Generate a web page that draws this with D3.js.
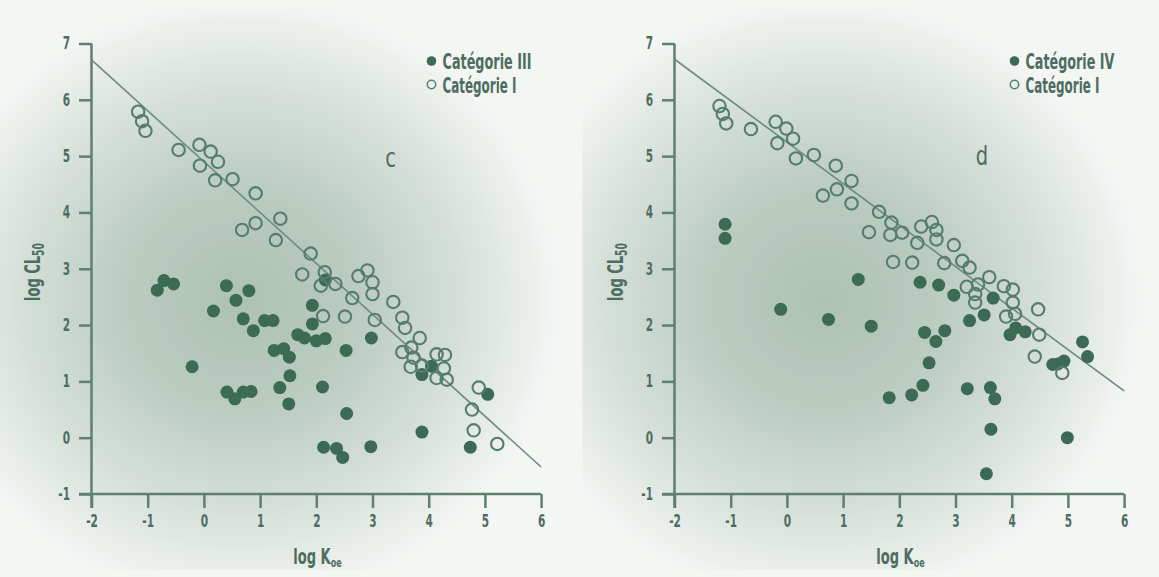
<!DOCTYPE html>
<html><head><meta charset="utf-8">
<script src="https://cdn.jsdelivr.net/npm/d3@7"></script>
<style>
html,body{margin:0;padding:0;background:#f4f6f4;}
text{font-family:"DejaVu Sans","Noto Sans",sans-serif;fill:#4d6d61;}
</style></head>
<body>
<svg id="chart" width="1159" height="577"></svg>
<script>
// ---------- data ----------
const xTicks = [-2,-1,0,1,2,3,4,5,6];
const yTicks = [-1,0,1,2,3,4,5,6,7];

// Panel c : Catégorie I (open)
const cOpenX = [-1.17,-1.10,-1.04,-0.45,-0.08,-0.07,0.12,0.25,0.20,0.51,0.92,0.68,0.92,1.36,1.28,1.90,1.75,2.15,2.08,2.34,2.12,2.51,2.64,2.75,2.91,3.00,3.00,3.04,3.37,3.53,3.58,3.53,3.69,3.73,3.68,3.84,3.88,4.14,4.29,4.27,4.14,4.32,4.89,4.77,4.80,5.22];
const cOpenY = [5.79,5.62,5.45,5.11,5.20,4.83,5.08,4.90,4.57,4.59,4.34,3.69,3.81,3.89,3.51,3.27,2.90,2.94,2.70,2.73,2.16,2.15,2.48,2.87,2.97,2.76,2.55,2.09,2.41,2.13,1.95,1.52,1.60,1.42,1.26,1.77,1.28,1.48,1.47,1.23,1.06,1.03,0.89,0.50,0.13,-0.11];
// Panel c : Catégorie III (filled)
const cFillX = [-0.83,-0.71,-0.54,-0.21,0.17,0.40,0.57,0.80,0.70,0.88,1.08,1.23,1.25,1.42,1.52,1.53,1.35,1.51,0.41,0.55,0.70,0.84,1.67,1.79,1.93,1.93,2.00,2.16,2.16,2.11,2.53,2.54,2.13,2.36,2.47,2.97,2.98,3.88,3.88,4.05,4.74,5.05];
const cFillY = [2.62,2.79,2.73,1.26,2.25,2.70,2.44,2.61,2.11,1.90,2.08,2.08,1.55,1.58,1.43,1.10,0.89,0.60,0.81,0.69,0.81,0.82,1.83,1.77,2.02,2.35,1.72,1.76,2.80,0.90,1.55,0.43,-0.17,-0.19,-0.35,-0.16,1.77,0.10,1.12,1.27,-0.17,0.77];

// Panel d : Catégorie I (open)
const dOpenX = [-1.20,-1.14,-1.08,-0.64,-0.20,-0.01,0.11,-0.17,0.16,0.48,0.87,0.64,0.89,1.15,1.15,1.46,1.64,1.86,1.84,2.05,1.89,2.23,2.32,2.39,2.58,2.66,2.66,2.80,2.97,3.12,3.25,3.20,3.35,3.35,3.40,3.60,3.86,4.02,4.02,3.90,4.06,4.47,4.49,4.41,4.90];
const dOpenY = [5.89,5.75,5.58,5.48,5.61,5.49,5.31,5.23,4.96,5.02,4.83,4.30,4.41,4.56,4.16,3.65,4.01,3.82,3.60,3.64,3.12,3.11,3.46,3.75,3.83,3.69,3.52,3.10,3.42,3.14,3.02,2.68,2.55,2.40,2.72,2.85,2.69,2.63,2.40,2.15,2.20,2.28,1.83,1.44,1.15];
// Panel d : Catégorie IV (filled)
const dFillX = [-1.10,-1.10,-0.11,0.74,1.27,1.50,1.82,2.22,2.42,2.37,2.45,2.53,2.65,2.70,2.81,2.97,3.21,3.25,3.51,3.67,3.62,3.70,3.63,3.55,3.97,4.07,4.24,4.73,4.82,4.93,5.26,5.35,4.99];
const dFillY = [3.79,3.54,2.28,2.10,2.81,1.98,0.71,0.76,0.93,2.76,1.87,1.33,1.71,2.71,1.90,2.53,0.87,2.08,2.18,2.48,0.89,0.69,0.15,-0.64,1.83,1.95,1.88,1.30,1.31,1.36,1.70,1.44,0.00];

// regression lines (endpoints at x=-2 and x=6)
const lineX = [-2, 6];
const cLineY = [6.71, -0.52];
const dLineY = [6.72, 0.83];

const panels = [
  {x0: 91.5, openX: cOpenX, openY: cOpenY, fillX: cFillX, fillY: cFillY, lineY: cLineY,
   letter: "c", letterX: 3.32, letterY: 4.96, fillName: "Catégorie III", openName: "Catégorie I"},
  {x0: 674.5, openX: dOpenX, openY: dOpenY, fillX: dFillX, fillY: dFillY, lineY: dLineY,
   letter: "d", letterX: 3.47, letterY: 5.0, fillName: "Catégorie IV", openName: "Catégorie I"}
];

// ---------- drawing ----------
const svg = d3.select("#chart");
const defs = svg.append("defs");
const W = 449.6, yTop = 43.5, yBot = 494;
const axisCol = "#5f7f72", darkCol = "#3b6a55", openCol = "#557d6c", txtCol = "#567666";
const fmt = d => String(d).replace("\u2212","-");
const SX = 0.62; // horizontal condensing of text

svg.append("rect").attr("width",1159).attr("height",577).attr("fill","#f4f6f4");

panels.forEach((p,i) => {
  const g = defs.append("radialGradient").attr("id","bg"+i)
    .attr("gradientUnits","userSpaceOnUse")
    .attr("cx", p.x0+150).attr("cy", 300).attr("r", 320)
    .attr("gradientTransform", `translate(${p.x0+150},300) scale(1,0.95) translate(${-(p.x0+150)},-300)`);
  g.append("stop").attr("offset","0").attr("stop-color","#adc1b4");
  g.append("stop").attr("offset","0.35").attr("stop-color","#bacbc0");
  g.append("stop").attr("offset","0.65").attr("stop-color","#d2ddd5");
  g.append("stop").attr("offset","0.88").attr("stop-color","#e8ede9");
  g.append("stop").attr("offset","1").attr("stop-color","#f4f6f4");
  svg.append("rect").attr("x", p.x0-92).attr("y", 8).attr("width", 570).attr("height", 562)
    .attr("fill","url(#bg"+i+")");
});

panels.forEach((p) => {
  const x = d3.scaleLinear().domain([-2,6]).range([p.x0, p.x0+W]);
  const y = d3.scaleLinear().domain([-1,7]).range([yBot, yTop]);
  const g = svg.append("g");

  // axes
  g.append("line").attr("x1", p.x0-12.5).attr("x2", x(6)).attr("y1", y(-1)).attr("y2", y(-1))
    .attr("stroke", axisCol).attr("stroke-width", 2.5);
  g.append("line").attr("x1", p.x0).attr("x2", p.x0).attr("y1", y(7)).attr("y2", y(-1)+14)
    .attr("stroke", axisCol).attr("stroke-width", 2.5);

  const xa = d3.axisBottom(x).tickValues(xTicks).tickSize(14).tickPadding(7).tickFormat(fmt);
  const xg = g.append("g").attr("transform", `translate(0,${y(-1)})`).call(xa);
  xg.select(".domain").remove();
  xg.selectAll(".tick line").attr("stroke", axisCol).attr("stroke-width", 2.5);
  xg.selectAll(".tick text").attr("font-size", 17).attr("font-family", "DejaVu Sans")
    .attr("font-weight","bold").attr("fill", txtCol).attr("transform", `scale(${SX},1)`);

  const ya = d3.axisLeft(y).tickValues(yTicks).tickSize(12.5).tickPadding(9).tickFormat(fmt);
  const yg = g.append("g").attr("transform", `translate(${p.x0},0)`).call(ya);
  yg.select(".domain").remove();
  yg.selectAll(".tick line").attr("stroke", axisCol).attr("stroke-width", 2.5);
  yg.selectAll(".tick text").attr("font-size", 17).attr("font-family", "DejaVu Sans")
    .attr("font-weight","bold").attr("fill", txtCol)
    .attr("x", -21.5/SX).attr("transform", `scale(${SX},1)`);

  // axis titles
  const xt = g.append("text").attr("transform", `translate(${p.x0+226},564) scale(${SX},1)`)
    .attr("text-anchor","middle").attr("font-size", 21).attr("font-weight","bold").attr("fill",txtCol);
  xt.append("tspan").text("log K");
  xt.append("tspan").attr("font-size", 13).attr("dy", 3).text("oe");

  const yt = g.append("text").attr("transform", `translate(${p.x0-52},272) rotate(-90) scale(${SX},1)`)
    .attr("text-anchor","middle").attr("font-size", 21).attr("font-weight","bold").attr("fill",txtCol);
  yt.append("tspan").text("log CL");
  yt.append("tspan").attr("font-size", 15).attr("dy", 4).text("50");

  // regression line
  g.append("line").attr("x1", x(lineX[0])).attr("y1", y(p.lineY[0]))
    .attr("x2", x(lineX[1])).attr("y2", y(p.lineY[1]))
    .attr("stroke", "#6b8b7f").attr("stroke-width", 1.6);

  // filled points
  g.selectAll(".f").data(p.fillX.map((v,k)=>[v,p.fillY[k]])).enter().append("circle")
    .attr("cx", d=>x(d[0])).attr("cy", d=>y(d[1])).attr("r", 6.5).attr("fill", darkCol);
  // open points
  g.selectAll(".o").data(p.openX.map((v,k)=>[v,p.openY[k]])).enter().append("circle")
    .attr("cx", d=>x(d[0])).attr("cy", d=>y(d[1])).attr("r", 6.2)
    .attr("fill", "none").attr("stroke", openCol).attr("stroke-width", 2.1);

  // panel letter
  g.append("text").attr("transform", `translate(${x(p.letterX)},${y(p.letterY)+9}) scale(0.75,1)`)
    .attr("text-anchor","middle").attr("font-size", 26).attr("fill","#4f6f62").text(p.letter);

  // legend
  const lx = p.x0 + 340, ly = 61;
  g.append("circle").attr("cx", lx).attr("cy", ly).attr("r", 4.8).attr("fill", darkCol);
  g.append("circle").attr("cx", lx).attr("cy", ly+23.5).attr("r", 4.2).attr("fill","none")
    .attr("stroke", openCol).attr("stroke-width", 1.5);
  const legendItem = (label, yy, target) => {
    const t = g.append("text").attr("x", 0).attr("y", 0).attr("font-size", 22).attr("font-weight","bold")
      .attr("fill","#4a6a5d").text(label);
    const w = t.node().getComputedTextLength();
    t.attr("transform", `translate(${lx+11},${yy}) scale(${target/w},1)`);
  };
  legendItem(p.fillName, ly+8, p.fillName.length>11 ? 89 : 87);
  legendItem(p.openName, ly+31.5, 74);
});
</script>
</body></html>
